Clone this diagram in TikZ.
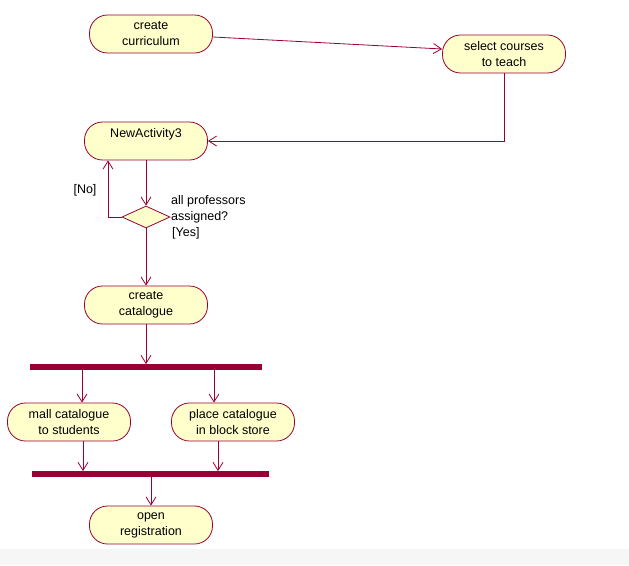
\documentclass[tikz,border=0pt]{standalone}
\usepackage{fontspec}
\setmainfont{Liberation Sans}
\usetikzlibrary{positioning,shapes.geometric,arrows.meta}
\definecolor{RoseRed}{HTML}{990033}
\definecolor{RoseYellow}{HTML}{FFFFCC}
\definecolor{RoseGray}{HTML}{F6F6F6}
\tikzset{
  activity/.style={draw=RoseRed, fill=RoseYellow, line width=0.8pt, rounded corners=18pt,
    minimum width=123pt, minimum height=38pt, inner sep=2pt, align=center,
    font=\fontsize{12.5}{16}\selectfont},
  decision/.style={diamond, draw=RoseRed, fill=RoseYellow, line width=0.8pt,
    minimum width=48pt, minimum height=22pt, inner sep=0pt},
  syncbar/.style={fill=RoseRed, inner sep=0pt, minimum height=5.5pt},
  flow/.style={draw=RoseRed, line width=0.8pt, -{Straight Barb[length=8pt,width=10pt]}},
  guard/.style={inner sep=0pt, align=left, font=\fontsize{12.5}{16}\selectfont},
}

\begin{document}
\begin{tikzpicture}[x=1pt, y=-1pt]
    \useasboundingbox (0,0) rectangle (629,565);
    \fill[RoseGray] (0,549) rectangle (629,565);
    % activities
    \node[activity] (cc) at (151,34) {create\\curriculum};
    \node[activity] (sc) at (504,54) {select courses\\to teach};
    \node[activity] (na) at (146,141) {NewActivity3\\\mbox{}};
    \node[decision] (dm) at (146,217) {};
    \node[activity] (ccat) at (146,305) {create\\catalogue};
    \node[syncbar, minimum width=232pt] (fork) at (146,367) {};
    \node[activity] (mall) at (69,422) {mall catalogue\\to students};
    \node[activity] (pc) at (233,422) {place catalogue\\in block store};
    \node[syncbar, minimum width=237pt] (join) at (150.5,474) {};
    \node[activity] (or) at (151,525) {open\\registration};
    % guards
    \node[guard] (no) at (85,190) {[No]};
    \node[guard, anchor=west] (q) at (171,209) {all professors\\assigned?};
    \node[guard, anchor=west] (yes) at (172,233) {[Yes]};
    % transitions
    \draw[flow] ([yshift=-3pt]cc.east) -- ([yshift=5pt]sc.west);
    \draw[flow] (sc.south) |- (na.east);
    \draw[flow] (na.south) -- (dm.north);
    \draw[flow] (dm.west) -| ([xshift=-38pt]na.south);
    \draw[flow] (dm.south) -- (ccat.north);
    \draw[flow] (ccat.south) -- (fork.north);
    \draw[flow] ([xshift=13pt]mall.north |- fork.south) -- ([xshift=13pt]mall.north);
    \draw[flow] ([xshift=-19pt]pc.north |- fork.south) -- ([xshift=-19pt]pc.north);
    \draw[flow] ([xshift=14pt]mall.south) -- ([xshift=14pt]mall.south |- join.north);
    \draw[flow] ([xshift=-15pt]pc.south) -- ([xshift=-15pt]pc.south |- join.north);
    \draw[flow] (or.north |- join.south) -- (or.north);
\end{tikzpicture}
\end{document}
